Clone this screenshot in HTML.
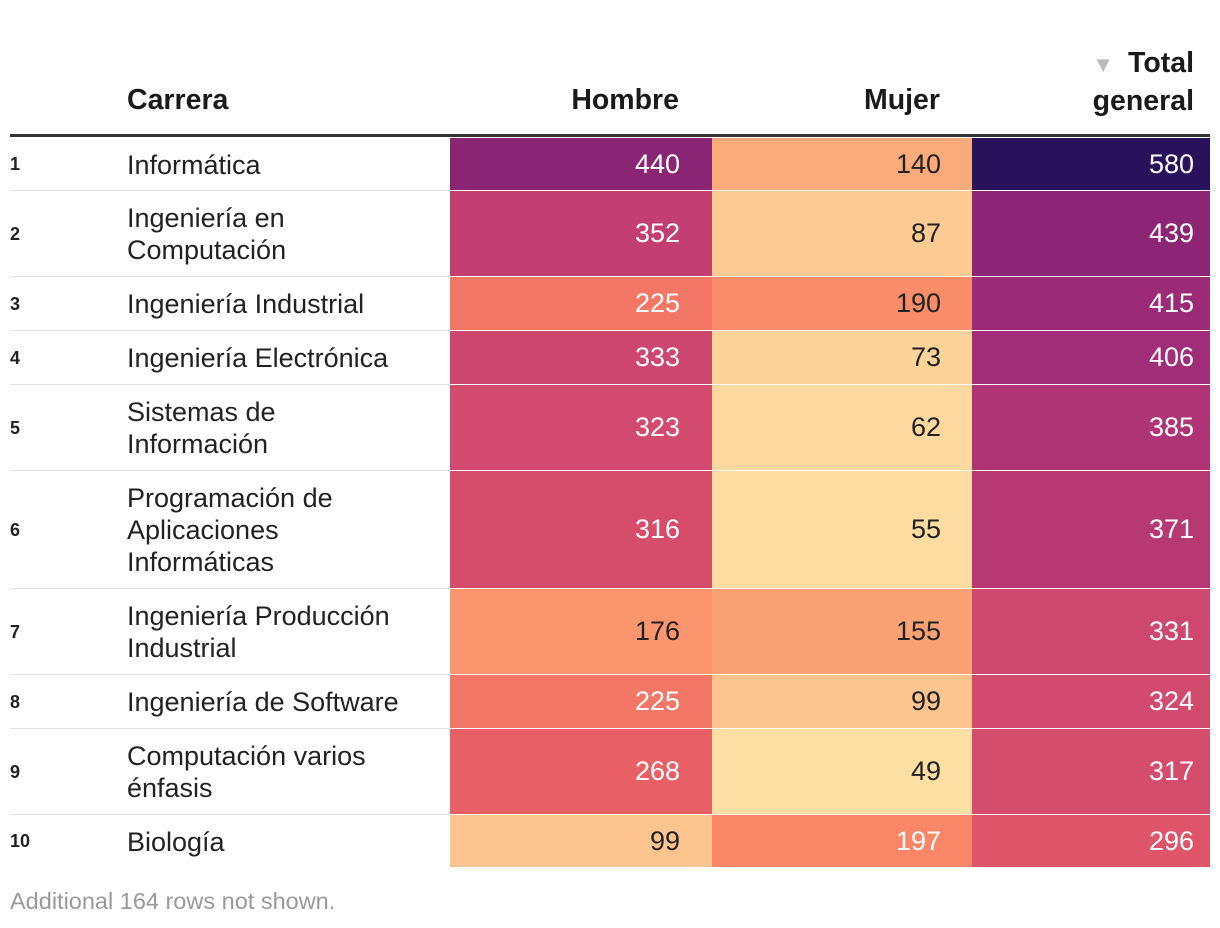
<!DOCTYPE html>
<html><head><meta charset="utf-8"><style>
body{margin:0;background:#fff;font-family:"Liberation Sans",Roboto,sans-serif;color:#222;}
#wrap{position:relative;width:1220px;height:928px;overflow:hidden;}
.h{position:absolute;font-weight:bold;font-size:28.5px;color:#1a1a1a;line-height:36px;}
.cell{position:absolute;font-size:27px;text-align:right;box-sizing:border-box;padding-right:32px;display:flex;align-items:center;justify-content:flex-end;}
.name{position:absolute;left:127px;font-size:27px;line-height:32px;display:flex;align-items:center;color:#222;}
.rank{position:absolute;left:10px;font-size:18px;font-weight:bold;display:flex;align-items:center;color:#222;}
.sep{position:absolute;left:10px;width:440px;height:1px;background:#e2e2e2;}
</style></head><body>
<div id="wrap">
<div class="h" style="left:127px;top:82px">Carrera</div>
<div class="h" style="left:440px;width:239px;text-align:right;top:82px">Hombre</div>
<div class="h" style="left:702px;width:238px;text-align:right;top:82px">Mujer</div>
<div class="h" style="left:962px;width:232px;text-align:right;top:45px"><span style="color:#bbb;font-size:22px;margin-right:14px">▼</span>Total<br>general</div>
<div style="position:absolute;left:10px;top:134px;width:1200px;height:3px;background:#333"></div>
<div id="rows"></div>
<div style="position:absolute;left:10px;top:888px;font-size:23.5px;color:#999">Additional 164 rows not shown.</div>
</div>
<script>
const careers=["Informática","Ingeniería en<br>Computación","Ingeniería Industrial","Ingeniería Electrónica","Sistemas de<br>Información","Programación de<br>Aplicaciones<br>Informáticas","Ingeniería Producción<br>Industrial","Ingeniería de Software","Computación varios<br>énfasis","Biología"];
const hombre=[440,352,225,333,323,316,176,225,268,99];
const mujer=[140,87,190,73,62,55,155,99,49,197];
const total=[580,439,415,406,385,371,331,324,317,296];
const rowTops=[138,191,277,331,385,471,589,675,729,815,868];
const stopV=[0,49,99,155,197,268,316,352,406,440,580];
const stopC=["#fef0b0","#fddfa4","#fcc58f","#fba274","#f98767","#e85f66","#d64d6c","#c33f72","#a12d78","#8a2574","#2a115c"];
function hex(c){return [1,3,5].map(i=>parseInt(c.substr(i,2),16));}
function color(v){for(let i=1;i<stopV.length;i++){if(v<=stopV[i]){const t=(v-stopV[i-1])/(stopV[i]-stopV[i-1]);const a=hex(stopC[i-1]),b=hex(stopC[i]);return "rgb("+a.map((x,k)=>Math.round(x+(b[k]-x)*t)).join(",")+")";}}return stopC[stopC.length-1];}
const rows=document.getElementById('rows');
const cols=[[hombre,450,262,'hombre'],[mujer,712,260,'mujer'],[total,972,238,'total']];
careers.forEach((c,i)=>{
 const top=rowTops[i],h=rowTops[i+1]-top;
 const r=document.createElement('div');r.className='rank';r.style.top=top+'px';r.style.height=h+'px';r.textContent=i+1;
 
 
 rows.appendChild(r);
 const n=document.createElement('div');n.className='name';n.style.top=top+'px';n.style.height=h+'px';n.innerHTML='<div>'+c+'</div>';
 
 
 rows.appendChild(n);
 if(i<careers.length-1){const s=document.createElement('div');s.className='sep';s.style.top=(top+h-1)+'px';
 
 
 rows.appendChild(s);}
 cols.forEach(([arr,x,w,nm])=>{
  const v=arr[i];const d=document.createElement('div');d.className='cell';
  d.style.cssText+='left:'+x+'px;top:'+top+'px;width:'+w+'px;height:'+(h-1)+'px;background:'+color(v)+';color:'+(v>193?'#fff':'#222')+';';
  if(nm==='total')d.style.paddingRight='16px';
  if(nm==='mujer')d.style.paddingRight='31px';
  d.textContent=v;
  
  
  rows.appendChild(d);
 });
});
</script>
</body></html>
